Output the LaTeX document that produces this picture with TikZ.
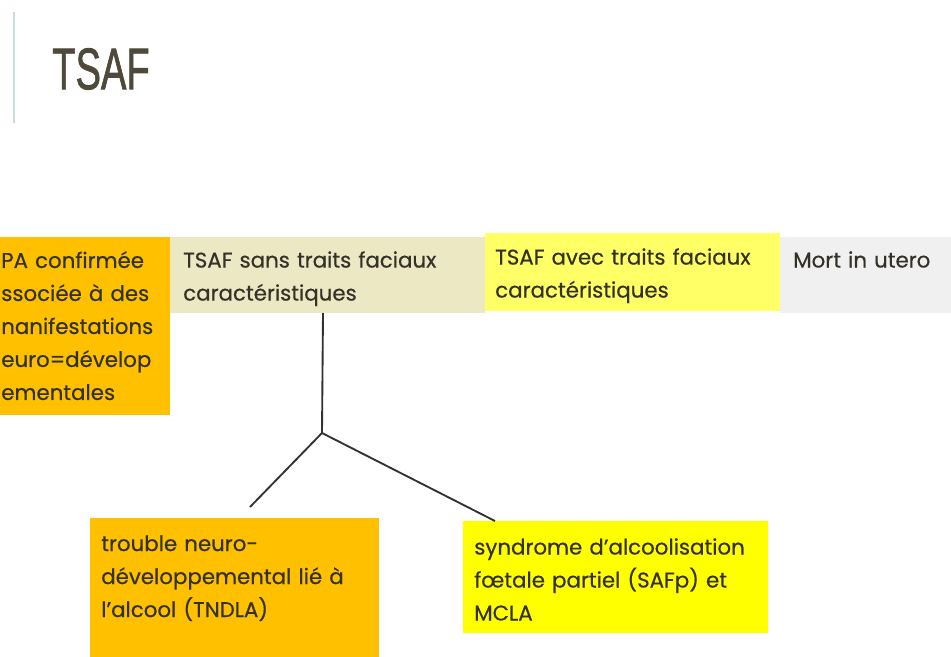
\documentclass[tikz,border=0pt]{standalone}
\usepackage{fontspec}
\setmainfont{Poppins}[UprightFeatures={FakeBold=0.5}]
\newfontfamily\titlefont{Liberation Sans}[UprightFeatures={FakeBold=1.5}]
\definecolor{txt}{RGB}{52,50,40}
\definecolor{ttl}{RGB}{78,73,58}
\definecolor{barc}{RGB}{200,222,222}
\definecolor{orangec}{RGB}{255,192,0}
\definecolor{beigec}{RGB}{236,232,196}
\definecolor{lyellow}{RGB}{255,255,102}
\definecolor{greyc}{RGB}{240,240,240}
\definecolor{yellowc}{RGB}{255,255,0}
\definecolor{linec}{RGB}{50,50,50}
\tikzset{
  boxtext/.style={anchor=north west, inner sep=0pt, align=left, text=txt,
    font=\fontsize{16pt}{24.75pt}\selectfont},
  conn/.style={draw=linec, line width=1.4pt},
}
\begin{document}
\begin{tikzpicture}[x=0.75pt,y=-0.75pt]
\useasboundingbox (0,0) rectangle (951,657);
\fill[white] (0,0) rectangle (951,657);
% title
\draw[barc, line width=2.2pt] (14,12) -- (14,123);
\node[anchor=west, inner sep=0pt, text=ttl] (title) at (52,69)
  {\scalebox{0.65}[1]{\titlefont\fontsize{44pt}{44pt}\selectfont TSAF}};
% top boxes
\fill[orangec] (0,237) rectangle (170,415);
\node[boxtext, text width=200pt] (b1) at (1,251)
  {PA confirmée\\ssociée à des\\nanifestations\\euro=dévelop\\ementales};
\fill[beigec] (170,237) rectangle (485,313);
\node[boxtext, text width=220pt] (b2) at (183,251) {TSAF sans traits faciaux\\caractéristiques};
\fill[lyellow] (485,233) rectangle (780,311);
\node[boxtext, text width=220pt] (b3) at (495,248) {TSAF avec traits faciaux\\caractéristiques};
\fill[greyc] (780,237) rectangle (951,313);
\node[boxtext, text width=120pt] (b4) at (793,251) {Mort in utero};
% bottom boxes
\fill[orangec] (90,518) rectangle (379,657);
\node[boxtext, text width=210pt] (b5) at (101,535) {trouble neuro-\\développemental lié à\\l'alcool (TNDLA)};
\fill[yellowc] (463,521) rectangle (768,633);
\node[boxtext, text width=220pt] (b6) at (474,538) {syndrome d'alcoolisation\\fœtale partiel (SAFp) et\\MCLA};
% connectors
\coordinate (top) at (323,313);
\coordinate (j) at (322,433);
\coordinate (l) at (250,507);
\coordinate (r) at (495,521);
\draw[conn] (top) -- (j);
\draw[conn] (j) -- (l);
\draw[conn] (j) -- (r);
\end{tikzpicture}
\end{document}
